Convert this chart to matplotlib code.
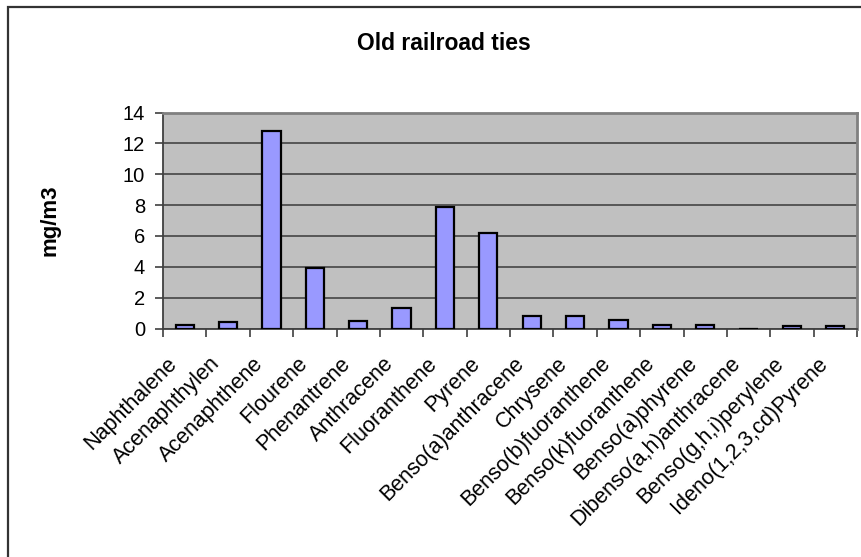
import numpy as np
import matplotlib.pyplot as plt
from matplotlib.patches import Rectangle
from matplotlib.transforms import ScaledTranslation

plt.rcParams['font.family'] = ['Liberation Sans', 'DejaVu Sans']

# Concentrations of PAH compounds measured over old railroad ties
compounds = [
    "Naphthalene", "Acenaphthylen", "Acenaphthene", "Flourene", "Phenantrene",
    "Anthracene", "Fluoranthene", "Pyrene", "Benso(a)anthracene", "Chrysene",
    "Benso(b)fuoranthene", "Benso(k)fuoranthene", "Benso(a)phyrene",
    "Dibenso(a,h)anthracene", "Benso(g,h,i)perylene", "Ideno(1,2,3,cd)Pyrene",
]
mg_m3 = [0.25, 0.4, 12.8, 3.9, 0.5, 1.3, 7.9, 6.2, 0.8, 0.8, 0.55, 0.25, 0.25, 0.0, 0.15, 0.15]
y_ticks = [0, 2, 4, 6, 8, 10, 12, 14]

fig = plt.figure(figsize=(8.61, 5.57), dpi=100)
ax = fig.add_axes([163 / 861, 1 - 328.5 / 557, 694 / 861, 216 / 557])

x = np.arange(len(compounds))
ax.bar(x, mg_m3, width=0.42, color="#9999FF", edgecolor="black", linewidth=1.6, zorder=3)

ax.set_facecolor("#C0C0C0")
ax.set_xlim(-0.5, len(compounds) - 0.5)
ax.set_ylim(0, 14)
ax.set_yticks(y_ticks)
ax.yaxis.grid(True, color="#3a3a3a", linewidth=1.1, zorder=1)
ax.set_axisbelow(True)

# category ticks sit between the bars
ax.set_xticks(np.arange(len(compounds) + 1) - 0.5)
ax.set_xticklabels([])
ax.set_xticks(x, minor=True)
ax.set_xticklabels(compounds, minor=True, rotation=45, ha="right", va="center",
                   rotation_mode="anchor", fontsize=15.5)
ax.tick_params(axis="x", which="minor", length=0, pad=23)
ax.tick_params(axis="x", which="major", length=6, width=1.2, color="#404040")
ax.tick_params(axis="y", length=6, width=1.2, color="#404040", pad=7, labelsize=14.5)

# nudge the slanted names a little to the left of their bars
shift = ScaledTranslation(-11 / 100, 0, fig.dpi_scale_trans)
for lbl in ax.get_xticklabels(minor=True):
    lbl.set_transform(lbl.get_transform() + shift)

for side in ["top", "right"]:
    ax.spines[side].set_color("#808080")
    ax.spines[side].set_linewidth(2)
for side in ["left", "bottom"]:
    ax.spines[side].set_color("#404040")
    ax.spines[side].set_linewidth(1.3)

ax.set_ylabel("mg/m3", fontsize=16, fontweight="bold")
ax.yaxis.set_label_coords(-0.148, 0.5)

fig.text(444 / 861, 1 - 50 / 557, "Old railroad ties", ha="center", va="baseline",
         fontsize=16.5, fontweight="bold")

# chart frame running off the right and bottom edges
fig.patches.append(Rectangle((7.5 / 861, -0.1), 1.2, 1 - 7 / 557 + 0.1,
                             transform=fig.transFigure, fill=False,
                             edgecolor="#333333", linewidth=1.6))

fig.savefig("out.png", dpi=100)
